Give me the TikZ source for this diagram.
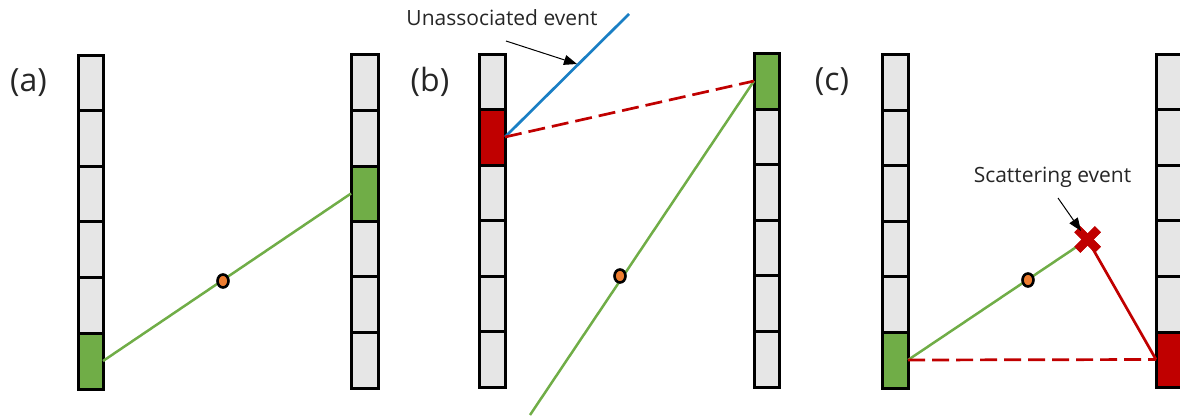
\documentclass[tikz,border=0pt]{standalone}
\usepackage{fontspec}
\setmainfont{Open Sans}
\usetikzlibrary{arrows.meta,shapes.misc,shapes.geometric}
\definecolor{cellgray}{HTML}{E6E6E6}
\definecolor{hitgreen}{HTML}{70AD47}
\definecolor{hitred}{HTML}{C00000}
\definecolor{evblue}{HTML}{1A7FC4}
\definecolor{dotorange}{HTML}{ED7D31}
\definecolor{txt}{HTML}{262626}
\tikzset{
  cellbox/.style={draw=black,line width=3pt,fill=cellgray,inner sep=0pt,outer sep=0pt},
  greenbox/.style={cellbox,fill=hitgreen},
  redbox/.style={cellbox,fill=hitred},
  greenline/.style={draw=hitgreen,line width=2.5pt},
  redline/.style={draw=hitred,line width=2.7pt},
  reddash/.style={draw=hitred,line width=2.7pt,dash pattern=on 17pt off 7pt},
  blueline/.style={draw=evblue,line width=2.7pt},
  pointer/.style={draw=black,line width=1pt,-{Triangle[length=13pt,width=10pt]}},
  source/.style={draw=black,line width=2.6pt,fill=dotorange,ellipse,inner sep=0pt,minimum width=11pt,minimum height=13pt},
  panel/.style={font=\fontsize{32}{38}\selectfont,text=txt,inner sep=0pt},
  note/.style={font=\fontsize{21}{25}\selectfont,text=txt,inner sep=0pt},
  scatter/.style={cross out,draw=hitred,line width=8.5pt,minimum size=12pt,inner sep=0pt}
}
% \cellnode{name}{x1}{x2}{y1}{y2}{style}
\newcommand{\cellnode}[6]{%
  \pgfmathsetmacro{\cw}{#3-#2}\pgfmathsetmacro{\ch}{#5-#4}%
  \pgfmathsetmacro{\cx}{(#2+#3)/2}\pgfmathsetmacro{\cy}{(#4+#5)/2}%
  \node[#6,minimum width=\cw pt,minimum height=\ch pt] (#1) at (\cx,\cy) {};%
}
\begin{document}
\begin{tikzpicture}[x=1pt,y=-1pt]
\useasboundingbox (0,0) rectangle (1180,415);
\clip (0,0) rectangle (1180,415);

% panel (a)
\cellnode{aL1}{78}{103}{55}{110}{cellbox}
\cellnode{aL2}{78}{103}{110}{166}{cellbox}
\cellnode{aL3}{78}{103}{166}{221}{cellbox}
\cellnode{aL4}{78}{103}{221}{277}{cellbox}
\cellnode{aL5}{78}{103}{277}{333}{cellbox}
\cellnode{aL6}{78}{103}{333}{389}{greenbox}
\cellnode{aR1}{351}{378}{54}{110}{cellbox}
\cellnode{aR2}{351}{378}{110}{166}{cellbox}
\cellnode{aR3}{351}{378}{166}{221}{greenbox}
\cellnode{aR4}{351}{378}{221}{276}{cellbox}
\cellnode{aR5}{351}{378}{276}{332}{cellbox}
\cellnode{aR6}{351}{378}{332}{388}{cellbox}
\draw[greenline] (aL6.east) -- (aR3.west);
\node[source] (aS) at (223,281) {};
\node[panel] (aT) at (28.5,82.5) {(a)};

% panel (b)
\cellnode{bL1}{479}{505}{54}{109}{cellbox}
\cellnode{bL2}{479}{505}{109}{165}{redbox}
\cellnode{bL3}{479}{505}{165}{220}{cellbox}
\cellnode{bL4}{479}{505}{220}{276}{cellbox}
\cellnode{bL5}{479}{505}{276}{331}{cellbox}
\cellnode{bL6}{479}{505}{331}{387}{cellbox}
\cellnode{bR1}{754}{779}{53}{109}{greenbox}
\cellnode{bR2}{754}{779}{109}{164}{cellbox}
\cellnode{bR3}{754}{779}{164}{220}{cellbox}
\cellnode{bR4}{754}{779}{220}{275}{cellbox}
\cellnode{bR5}{754}{779}{275}{331}{cellbox}
\cellnode{bR6}{754}{779}{331}{387}{cellbox}
\coordinate (bBlueEnd) at (629,14);
\coordinate (bGreenEnd) at (530,415);
\coordinate (bArrowTip) at (577,64);
\draw[blueline] (bL2.east) -- (bBlueEnd);
\draw[greenline] (bR1.west) -- (bGreenEnd);
\draw[reddash] (bL2.east) -- (bR1.west);
\node[source] (bS) at (620,276) {};
\node[panel] (bT) at (430,81.5) {(b)};
\node[note] (bN) at (502,18) {Unassociated event};
\coordinate (bArrowStart) at (506,41);
\draw[pointer] (bArrowStart) -- (bArrowTip);

% panel (c)
\cellnode{cL1}{882}{908}{54}{110}{cellbox}
\cellnode{cL2}{882}{908}{110}{165}{cellbox}
\cellnode{cL3}{882}{908}{165}{221}{cellbox}
\cellnode{cL4}{882}{908}{221}{276}{cellbox}
\cellnode{cL5}{882}{908}{276}{332}{cellbox}
\cellnode{cL6}{882}{908}{332}{388}{greenbox}
\cellnode{cR1}{1156}{1210}{54}{109}{cellbox}
\cellnode{cR2}{1156}{1210}{109}{165}{cellbox}
\cellnode{cR3}{1156}{1210}{165}{220}{cellbox}
\cellnode{cR4}{1156}{1210}{220}{276}{cellbox}
\cellnode{cR5}{1156}{1210}{276}{332}{cellbox}
\cellnode{cR6}{1156}{1210}{332}{387}{redbox}
\node[scatter] (cX) at (1087.5,239.5) {};
\draw[greenline] (cL6.east) -- (cX.center);
\draw[redline] (cX.center) -- (cR6.west);
\draw[reddash] (cL6.east) -- (cR6.west);
\node[scatter] at (cX.center) {};
\node[source] (cS) at (1028,280) {};
\node[panel] (cT) at (832,81.5) {(c)};
\node[note] (cN) at (1052.5,177) {Scattering event};
\coordinate (cArrowStart) at (1058,198);
\coordinate (cArrowTip) at (1081,231);
\draw[pointer] (cArrowStart) -- (cArrowTip);
\end{tikzpicture}
\end{document}
